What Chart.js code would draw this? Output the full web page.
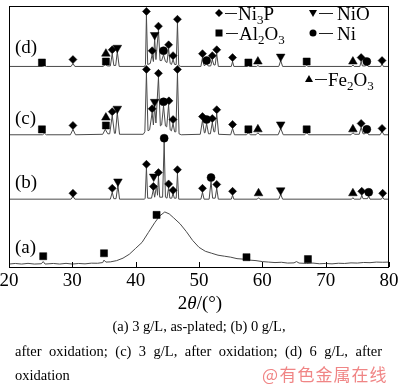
<!DOCTYPE html>
<html><head><meta charset="utf-8">
<script src="https://cdn.jsdelivr.net/npm/chart.js@4.4.0/dist/chart.umd.min.js"></script>
<style>html,body{margin:0;padding:0;background:#fff;}canvas{display:block;}</style>
</head><body>
<canvas id="c" width="400" height="390"></canvas>
<script>
// ---- data ----
const xTicks = [20, 30, 40, 50, 60, 70, 80];
const curveLabels = ['(a)', '(b)', '(c)', '(d)'];
const offsets = [3, 69, 134.5, 204];   // vertical offset of each pattern (a..d)

const curveA = [[20,0],[21,0.6],[22,0],[23,0.7],[24,0],[25.1,0.3],[25.4,2.5],[25.7,0],[27,0.6],[28,0],[29,0.7],[30,0],[31,0.6],[32,0.2],[33,0.9],[34,0.8],[34.8,1.5],[35.0,4],[35.3,2],[36,2.2],[37,3.5],[38,6],[39,10],[40,16],[41,22],[42,32],[43,42],[43.8,49],[44.6,53],[45.3,51],[46,47],[47,41],[48,33],[49,24],[50,17],[51,13],[52,11],[53,9],[54,8],[55,7],[56,5.5],[57,5],[58,4],[59,3.5],[60,2.5],[61,2],[62,1.5],[63,1.8],[64,1],[65,1.2],[65.4,2.5],[65.8,1],[67,0.6],[68,1],[69,0.3],[70,0.6],[71,0.2],[72,0.8],[73,0.6],[74,1.2],[75,1],[76,1.6],[77,1.4],[78,2],[79,1.8],[80,2]];

const curveB = [[20,0],[29.8,0],[30.1,3],[30.4,0],[36.0,0],[36.3,7],[36.55,0.5],[36.9,0.5],[37.2,14],[37.45,0],[41.4,0],[41.5,1],[41.7,32],[41.9,1],[42.5,1],[42.8,10],[43.0,2],[43.3,14],[43.45,4],[43.6,23],[43.8,2],[44.25,2],[44.5,58],[44.7,2],[44.95,1],[45.2,12],[45.4,1],[45.7,1],[45.9,6],[46.1,1],[46.4,1],[46.6,26],[46.8,0],[50.3,0],[50.55,7],[50.8,0],[51.6,0],[51.9,18],[52.15,1],[52.55,1],[52.8,11],[53.05,0],[55.1,0],[55.3,4],[55.5,0],[59.2,0],[59.4,1.5],[59.6,0],[62.6,0],[62.9,5],[63.2,0],[74.1,0],[74.3,1.5],[74.5,0],[75.5,0],[75.7,4],[75.9,0.5],[76.6,0.5],[76.8,3],[77.0,0],[78.8,0],[79.0,2],[79.2,0],[80,0]];

const curveC = [[20,0],[25.3,0],[25.6,1.5],[25.9,0],[29.7,0],[30.1,5.5],[30.5,0],[34.8,0.5],[35.2,5.5],[35.6,1],[35.9,1],[36.3,19.5],[36.65,1.5],[36.8,1.5],[37.1,22.5],[37.45,0.5],[41.2,0.5],[41.45,3],[41.7,62.5],[41.95,4],[42.2,5],[42.6,22.5],[42.8,10],[43.0,29.5],[43.2,12],[43.6,58.5],[43.9,9],[44.1,10],[44.4,29.5],[44.7,9],[44.9,8],[45.2,30.5],[45.45,5],[45.65,4],[45.9,11.5],[46.15,3],[46.35,3],[46.6,62.5],[46.85,1],[47.2,0],[50.2,0.5],[50.55,14.5],[50.85,2],[50.95,2],[51.2,11.5],[51.5,1],[51.8,1],[52.1,12.5],[52.35,3],[52.5,3],[52.8,21.5],[53.1,0.5],[55.0,0],[55.3,6.5],[55.6,0],[57.5,0],[57.8,2],[58.1,0],[59.0,0],[59.3,2],[59.6,0],[62.5,0],[62.9,6.5],[63.3,0],[66.7,0],[67,2],[67.3,0],[74.0,0],[74.3,2],[74.6,0.5],[75.3,0.5],[75.6,7.5],[75.9,1],[76.2,1],[76.5,3],[76.8,0],[78.6,0],[78.9,3.5],[79.2,0],[80,0]];

const curveD = [[20,0],[25.3,0],[25.6,1],[25.9,0],[29.8,0],[30.1,3],[30.4,0],[34.9,0],[35.2,2.5],[35.5,0.5],[36.0,0.5],[36.3,13],[36.55,1],[36.85,1],[37.1,15],[37.4,0],[41.4,0],[41.55,2],[41.7,52],[41.9,2],[42.3,3],[42.6,12],[42.8,5],[43.0,28],[43.2,7],[43.6,37],[43.85,6],[44.1,6],[44.4,12],[44.7,5],[44.95,4],[45.2,18],[45.45,3],[45.65,2],[45.9,7],[46.15,2],[46.4,2],[46.6,44],[46.8,1],[47.1,0],[50.3,0],[50.55,9],[50.8,1],[50.95,1],[51.2,3],[51.45,0.5],[51.85,0.5],[52.1,7],[52.35,1.5],[52.55,1.5],[52.8,13],[53.05,0],[55.1,0],[55.3,5],[55.5,0],[57.6,0],[57.8,1],[58.0,0],[59.1,0],[59.3,1],[59.5,0],[62.6,0],[62.9,6],[63.2,0],[66.8,0],[67,1],[67.2,0],[74.1,0],[74.3,1.5],[74.5,0],[75.4,0],[75.6,5],[75.8,0.5],[76.3,0.5],[76.5,2],[76.7,0],[78.7,0],[78.9,3],[79.1,0],[80,0]];

// phase markers [2theta, plotted height incl. offset]
const ni3pMarks = [[30.1,211],[36.3,221],[41.7,260],[42.6,220],[43.6,245],[45.2,226],[45.9,215],[46.6,252],[50.55,217],[52.1,215],[52.8,221],[55.3,213],[75.6,213],[78.9,210],
  [30.1,144],[36.3,158],[41.7,201],[42.6,161],[43.6,197],[45.25,169],[45.9,150],[46.6,201],[50.55,153],[52.1,151],[52.8,160],[55.3,145],[75.6,146],[78.9,141],
  [30.1,75],[36.3,80],[41.7,104.5],[42.8,82],[43.6,96],[45.2,84.5],[45.9,78],[46.6,99],[50.55,80],[52.8,84],[55.3,77],[75.7,77],[79.0,75]];
const nioMarks = [[37.1,223],[43.0,236],[62.9,214],[37.1,161],[43.0,168],[62.9,145],[37.2,87],[42.85,92],[62.9,78]];
const al2o3Marks = [[25.2,208],[35.3,209],[57.8,208],[67.0,209],[25.2,140],[35.3,144],[57.8,140],[67.0,140],
  [25.4,11],[35.0,14],[43.3,53],[57.5,10],[67.2,8]];
const fe2o3Marks = [[35.3,217],[59.3,209],[74.3,209],[35.3,152],[59.3,140],[74.3,140],[59.4,75],[74.3,75]];
const niMarks = [[44.4,220],[51.2,210],[76.5,209],[44.4,168],[51.2,150],[76.5,140],[44.5,131],[51.9,91],[76.8,76]];

const legendItems = [
  {shape:'diamond', mx:219, my:13, d1:225, d2:237, tx:238, ty:20, parts:[['Ni',0],['3',1],['P',0]]},
  {shape:'down', mx:313, my:13, d1:319, d2:333, tx:337, ty:20, parts:[['NiO',0]]},
  {shape:'square', mx:219, my:33, d1:226, d2:238, tx:239, ty:40, parts:[['Al',0],['2',1],['O',0],['3',1]]},
  {shape:'circle', mx:313, my:33, d1:319, d2:333, tx:337, ty:40, parts:[['Ni',0]]},
  {shape:'up', mx:309, my:79, d1:315, d2:327, tx:328, ty:86, parts:[['Fe',0],['2',1],['O',0],['3',1]]}
];

const captionLine1 = '(a) 3 g/L, as-plated; (b) 0 g/L,';
const captionLine2 = 'after oxidation; (c) 3 g/L, after oxidation; (d) 6 g/L, after';
const captionLine3 = 'oxidation';
const watermark = '@有色金属在线';

// ---- build ----
const curves = [curveA, curveB, curveC, curveD];
const curveSets = curves.map((c, i) => ({
  data: c.map(p => ({x: p[0], y: p[1] + offsets[i]})),
  showLine: true, pointRadius: 0, borderColor: '#4a4a4a', borderWidth: 1, tension: 0, order: 1
}));
const mk = (arr, style, r, rot) => ({
  data: arr.map(p => ({x: p[0], y: p[1]})), showLine: false, pointStyle: style, pointRadius: r,
  pointRotation: rot || 0, pointBackgroundColor: '#000', pointBorderColor: '#000', pointBorderWidth: 0.5, order: 0
});
const markerSets = [
  mk(ni3pMarks, 'rectRot', 4), mk(nioMarks, 'triangle', 5, 180), mk(al2o3Marks, 'rect', 5),
  mk(fe2o3Marks, 'triangle', 5), mk(niMarks, 'circle', 4)
];

const SERIF = '"Liberation Serif","Times New Roman",serif';

function drawShape(ctx, shape, x, y) {
  ctx.beginPath();
  if (shape === 'diamond') { ctx.moveTo(x, y-4); ctx.lineTo(x+4, y); ctx.lineTo(x, y+4); ctx.lineTo(x-4, y); }
  else if (shape === 'square') { ctx.rect(x-3.5, y-3.5, 7, 7); }
  else if (shape === 'circle') { ctx.arc(x, y, 3.5, 0, Math.PI*2); }
  else if (shape === 'down') { ctx.moveTo(x-4, y-3); ctx.lineTo(x+4, y-3); ctx.lineTo(x, y+4); }
  else if (shape === 'up') { ctx.moveTo(x-4, y+3); ctx.lineTo(x+4, y+3); ctx.lineTo(x, y-4); }
  ctx.closePath(); ctx.fill();
}

const decor = {
  id: 'decor',
  afterDatasetsDraw(chart) {
    const ctx = chart.ctx, a = chart.chartArea, xs = chart.scales.x;
    ctx.save();
    ctx.strokeStyle = '#000'; ctx.lineWidth = 1;
    ctx.strokeRect(Math.round(a.left)+0.5, Math.round(a.top)+0.5, Math.round(a.right-a.left)-1, Math.round(a.bottom-a.top)-1);
    ctx.beginPath();
    xTicks.forEach(t => { const px = Math.round(xs.getPixelForValue(t)) + 0.5; ctx.moveTo(px, a.bottom); ctx.lineTo(px, a.bottom - 5); });
    ctx.stroke();
    // legend
    ctx.fillStyle = '#000'; ctx.strokeStyle = '#222'; ctx.textBaseline = 'alphabetic'; ctx.textAlign = 'left';
    legendItems.forEach(it => {
      drawShape(ctx, it.shape, it.mx, it.my);
      ctx.beginPath(); ctx.moveTo(it.d1, it.my + 0.5); ctx.lineTo(it.d2, it.my + 0.5); ctx.stroke();
      let x = it.tx;
      it.parts.forEach(([s, sub]) => {
        ctx.font = (sub ? '13px ' : '19px ') + SERIF;
        ctx.fillText(s, x, it.ty + (sub ? 4 : 0));
        x += ctx.measureText(s).width;
      });
    });
    // curve labels
    ctx.font = '19px ' + SERIF;
    const ly = [253, 188, 124, 53];
    curveLabels.forEach((l, i) => ctx.fillText(l, 15, ly[i]));
    ctx.restore();
  },
  afterDraw(chart) {
    const ctx = chart.ctx;
    ctx.save();
    ctx.fillStyle = '#000'; ctx.textBaseline = 'alphabetic'; ctx.textAlign = 'left';
    // axis title 2θ/(°)
    const parts = [['2', ''], ['θ', 'italic '], ['/(°)', '']];
    let w = 0;
    parts.forEach(([s, st]) => { ctx.font = st + '19px ' + SERIF; w += ctx.measureText(s).width; });
    let x = 200 - w / 2;
    parts.forEach(([s, st]) => { ctx.font = st + '19px ' + SERIF; ctx.fillText(s, x, 309); x += ctx.measureText(s).width; });
    // caption
    ctx.font = '14.5px ' + SERIF;
    ctx.textAlign = 'center'; ctx.fillText(captionLine1, 199, 331);
    ctx.textAlign = 'left';
    const words = captionLine2.split(' ');
    const ww = words.map(s => ctx.measureText(s).width);
    const total = ww.reduce((p, q) => p + q, 0);
    const gap = (382 - 15 - total) / (words.length - 1);
    let cx = 15;
    words.forEach((s, i) => { ctx.fillText(s, cx, 356); cx += ww[i] + gap; });
    ctx.fillText(captionLine3, 15, 380);
    // watermark
    ctx.fillStyle = '#f08585';
    ctx.font = '17px "Noto Sans CJK SC", sans-serif';
    ctx.textAlign = 'center';
    const chars = Array.from(watermark);
    const centers = [270, 288, 306, 324, 342, 360, 378];
    chars.forEach((ch, i) => ctx.fillText(ch, centers[i], 381));
    ctx.restore();
  }
};

new Chart(document.getElementById('c'), {
  type: 'scatter',
  data: { datasets: markerSets.concat(curveSets) },
  options: {
    responsive: false, animation: false, devicePixelRatio: 1,
    layout: { padding: { left: 9, right: 11, top: 1, bottom: 95 } },
    plugins: { legend: { display: false }, tooltip: { enabled: false } },
    scales: {
      x: {
        type: 'linear', min: 20, max: 80,
        afterBuildTicks: s => { s.ticks = xTicks.map(v => ({ value: v })); },
        afterFit: s => { s.height = 28; s.paddingLeft = 0; s.paddingRight = 0; },
        grid: { display: false }, border: { display: false },
        ticks: { padding: -5, color: '#000', font: { family: SERIF, size: 19 }, maxRotation: 0 }
      },
      y: { display: false, min: 0, max: 266 }
    }
  },
  plugins: [decor]
});
</script>
</body></html>
